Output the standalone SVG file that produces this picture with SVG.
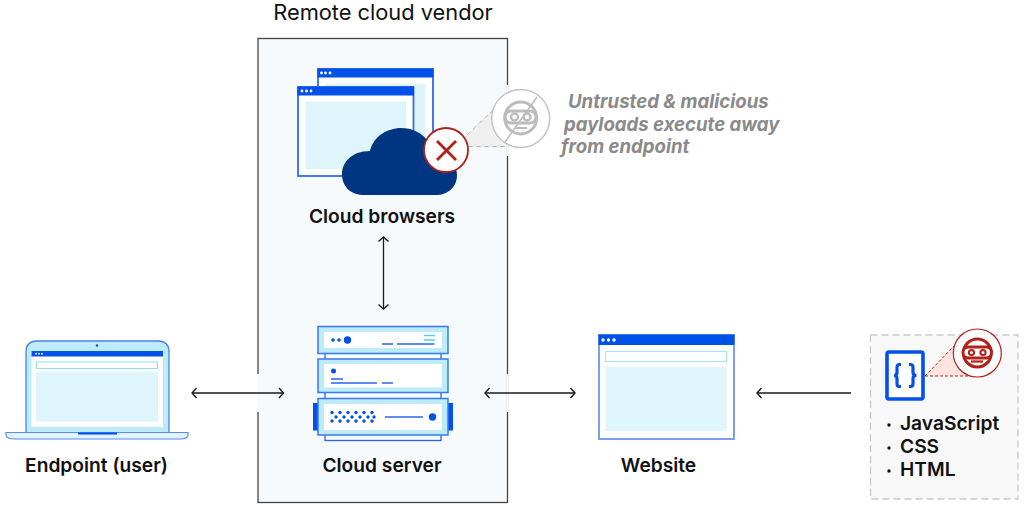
<svg xmlns="http://www.w3.org/2000/svg" width="1024" height="510" viewBox="0 0 1024 510">
<style>
text{font-family:Inter,"Liberation Sans",sans-serif;fill:#111}
.l{font-size:19.200px;font-weight:600}
.n{font-size:19.200px;font-weight:600;text-anchor:middle}
.t{font-size:18.600px;font-weight:700;font-style:italic;fill:#8a8a8a}
.win{fill:#fff;stroke:#2f6bf0;stroke-width:1.800}
.web{fill:#fff;stroke:#6f93f0;stroke-width:1.800}
.bar{fill:#0051e8}
.pane{fill:#def5fb}
.d{fill:#fff}
.b{fill:#0051e8}
.ln{stroke:#2a66ea;stroke-width:1.300;fill:none}
.srv{fill:#bdebf7;stroke:#3a78f2;stroke-width:1.500}
.arr{fill:none;stroke:#1a1a1a;stroke-width:1.300}
</style>
<defs>
<marker id="ah" viewBox="0 0 12 12" refX="11" refY="6" markerWidth="12" markerHeight="12" orient="auto-start-reverse" markerUnits="userSpaceOnUse"><path d="M6.500 1L11 6L6.500 11" fill="none" stroke="#1a1a1a" stroke-width="1.400"/></marker>
</defs>
<rect width="1024" height="510" fill="#fff"/>

<g id="vendor">
<rect x="258" y="38.500" width="249.500" height="464" fill="#f6fafc" stroke="#444" stroke-width="1.300"/>
<rect x="257" y="374" width="2" height="38" fill="#f6fafc"/>
<rect x="506.500" y="374" width="2" height="38" fill="#f6fafc"/>
<rect x="506.500" y="85" width="2" height="71" fill="#f6fafc"/>
<text x="383" y="20" style="font-size:21.800px;font-weight:400" text-anchor="middle">Remote cloud vendor</text>
</g>

<g id="cloud-browsers">
<rect class="win" x="318" y="69" width="115" height="98"/>
<rect class="bar" x="317.500" y="68.500" width="116" height="9"/>
<circle class="d" cx="321.500" cy="73" r="1.400"/><circle class="d" cx="325.500" cy="73" r="1.400"/><circle class="d" cx="330" cy="73" r="1.400"/>
<rect class="pane" x="325" y="83.500" width="100.500" height="76"/>
<rect class="win" x="298" y="87" width="115.500" height="89"/>
<rect class="bar" x="297.500" y="86.500" width="116.500" height="9"/>
<circle class="d" cx="302" cy="91" r="1.400"/><circle class="d" cx="306.500" cy="91" r="1.400"/><circle class="d" cx="311" cy="91" r="1.400"/>
<rect class="pane" x="305.500" y="101.500" width="100.500" height="67.500"/>
<path d="M364 195C349 195 342 185 342 174C342 163 351 151 370 151C373 137 387 128 401 128C418 128 430 139 433 152C449 155 457 165 457 175C457 187 448 195 436 195Z" fill="#003681"/>
<text class="n" x="382" y="223">Cloud browsers</text>
</g>

<g id="payload-callout">
<path d="M466 136L494 109L503 146L466 146Z" fill="#efefef"/>
<path d="M467 135L494 109M468 146.500H507" fill="none" stroke="#b5b5b5" stroke-width="1" stroke-dasharray="5 3"/>
<circle cx="520.700" cy="118.500" r="29" fill="#fff" stroke="#c4c4c4" stroke-width="1.500"/>
<g stroke="#bcbcbc" fill="none" stroke-width="3">
<circle cx="520.700" cy="118" r="16"/>
<rect x="505" y="111" width="31" height="12" rx="6" fill="#fff"/>
<circle cx="514.500" cy="117" r="3.500" stroke-width="2.400"/><circle cx="527" cy="117" r="3.500" stroke-width="2.400"/>
<path d="M515 128H527" stroke-width="2"/>
<path d="M537 97L505 142" stroke-width="1.500"/>
</g>
<circle cx="446" cy="150" r="22" fill="#fff" stroke="#b2201a" stroke-width="1.800"/>
<path d="M437 141L456 160M456 141L437 160" stroke="#b2201a" stroke-width="2.800" fill="none"/>
<text class="t" x="568" y="108">Untrusted &amp; malicious</text>
<text class="t" x="564" y="131">payloads execute away</text>
<text class="t" x="561" y="153">from endpoint</text>
</g>

<g id="cloud-server">
<rect class="ln" x="325" y="353" width="116" height="87.500" fill="#fff"/>
<rect class="b" x="313" y="403" width="6" height="27.500"/>
<rect class="b" x="447.500" y="403" width="5.500" height="27.500"/>
<rect class="srv" x="318" y="326.500" width="130" height="27"/>
<rect x="324" y="332" width="118" height="16" fill="#fff"/>
<rect class="srv" x="318" y="359" width="130" height="33.500"/>
<rect x="324" y="364" width="118" height="23.500" fill="#fff"/>
<rect class="srv" x="318" y="398.500" width="130" height="36.500"/>
<rect x="324" y="404" width="118" height="26" fill="#fff"/>
<circle class="b" cx="333" cy="340" r="1.800"/><circle class="b" cx="339" cy="340" r="1.800"/><circle class="b" cx="347.500" cy="340" r="3.700"/>
<path class="ln" d="M382 344H393M397 344H434.500"/>
<path d="M424 335.500H435M424 340H435" stroke="#55d0ea" stroke-width="1.300"/>
<circle class="b" cx="333.500" cy="371" r="2.500"/>
<path class="ln" d="M331 379H343M331 383H377M382 383H393"/>
<g class="b">
<circle cx="332" cy="412.500" r="1.700"/><circle cx="340" cy="412.500" r="1.700"/><circle cx="348" cy="412.500" r="1.700"/><circle cx="356" cy="412.500" r="1.700"/><circle cx="364" cy="412.500" r="1.700"/><circle cx="372" cy="412.500" r="1.700"/>
<circle cx="336" cy="417" r="1.700"/><circle cx="344" cy="417" r="1.700"/><circle cx="352" cy="417" r="1.700"/><circle cx="360" cy="417" r="1.700"/><circle cx="368" cy="417" r="1.700"/><circle cx="374" cy="417" r="1.700"/>
<circle cx="332" cy="421" r="1.700"/><circle cx="340" cy="421" r="1.700"/><circle cx="348" cy="421" r="1.700"/><circle cx="356" cy="421" r="1.700"/><circle cx="364" cy="421" r="1.700"/><circle cx="372" cy="421" r="1.700"/>
</g>
<path class="ln" d="M385 417H423"/>
<circle class="b" cx="432.500" cy="417" r="3.700"/>
<text class="n" x="382" y="472">Cloud server</text>
</g>

<g id="endpoint">
<path d="M26 433V352Q26 341 37 341H158Q169 341 169 352V433Z" fill="#bdebf7" stroke="#4d80f2" stroke-width="1.300"/>
<rect x="31.500" y="351" width="131.500" height="76" fill="#fff"/>
<rect class="bar" x="31.500" y="351" width="131.500" height="5.500"/>
<circle class="d" cx="36" cy="353.700" r="0.900"/><circle class="d" cx="39" cy="353.700" r="0.900"/><circle class="d" cx="42" cy="353.700" r="0.900"/>
<circle class="b" cx="97" cy="345.500" r="1.200"/>
<rect x="36.500" y="362" width="121" height="6.500" fill="#fff" stroke="#8fdfec" stroke-width="1"/>
<rect class="pane" x="36" y="372" width="122" height="49.500"/>
<path d="M6 432.500H188V435Q188 439 180 439H15Q6 439 6 435Z" fill="#dff5fb" stroke="#5c8af2" stroke-width="1.200"/>
<rect class="b" x="78" y="432.500" width="39" height="2"/>
<text class="n" x="96.500" y="472">Endpoint (user)</text>
</g>

<g id="website">
<rect class="web" x="599" y="335" width="135" height="104"/>
<rect class="bar" x="598.500" y="334.500" width="136" height="10.500"/>
<circle class="d" cx="603" cy="340" r="1.700"/><circle class="d" cx="608.500" cy="340" r="1.700"/><circle class="d" cx="614" cy="340" r="1.700"/>
<rect x="605.500" y="351.500" width="121" height="10" fill="#fff" stroke="#a0e6f0" stroke-width="1"/>
<rect class="pane" x="605.500" y="367" width="121" height="64"/>
<text class="n" x="658.500" y="472">Website</text>
</g>

<g id="code-source">
<rect x="870.500" y="335" width="147.500" height="164" fill="#f8f8f8" stroke="#c9c9c9" stroke-width="1.300" stroke-dasharray="7 4"/>
<path d="M925 376L955 345L972 376Z" fill="#fde4e1"/>
<path d="M925 376L955 345M925 376H972" fill="none" stroke="#b2201a" stroke-width="1" stroke-dasharray="3 2"/>
<rect x="887" y="352" width="36" height="47" rx="2" fill="#fff" stroke="#0051e8" stroke-width="3.600"/>
<path d="M901 364.500H899.500Q897 364.500 897 367.500V372.500Q897 375.500 894 375.500Q897 375.500 897 378.500V383.500Q897 386.500 899.500 386.500H901M909 364.500H910.500Q913 364.500 913 367.500V372.500Q913 375.500 916.500 375.500Q913 375.500 913 378.500V383.500Q913 386.500 910.500 386.500H909" fill="none" stroke="#0051e8" stroke-width="3.200"/>
<circle cx="977.300" cy="353" r="24" fill="#fff" stroke="#b2201a" stroke-width="1.200"/>
<g stroke="#b2201a" fill="none">
<circle cx="977.300" cy="353" r="14" stroke-width="3"/>
<rect x="963" y="347" width="28.500" height="11" rx="5.500" fill="#fff" stroke-width="2.800"/>
<circle cx="971.500" cy="352.500" r="2.600" stroke-width="2"/><circle cx="983" cy="352.500" r="2.600" stroke-width="2"/>
<path d="M971 361.500H983" stroke-width="2.200"/>
</g>
<circle cx="889" cy="425" r="1.700" fill="#111"/><circle cx="889" cy="448" r="1.700" fill="#111"/><circle cx="889" cy="471" r="1.700" fill="#111"/>
<text class="l" x="900" y="430">JavaScript</text>
<text class="l" x="900" y="453">CSS</text>
<text class="l" x="900" y="476">HTML</text>
</g>

<g id="connectors">
<path class="arr" d="M383.500 237V309" marker-start="url(#ah)" marker-end="url(#ah)"/>
<path class="arr" d="M192 393H283.500" marker-start="url(#ah)" marker-end="url(#ah)"/>
<path class="arr" d="M485 393H575" marker-start="url(#ah)" marker-end="url(#ah)"/>
<path class="arr" d="M851 393H757" marker-end="url(#ah)"/>
</g>
</svg>
